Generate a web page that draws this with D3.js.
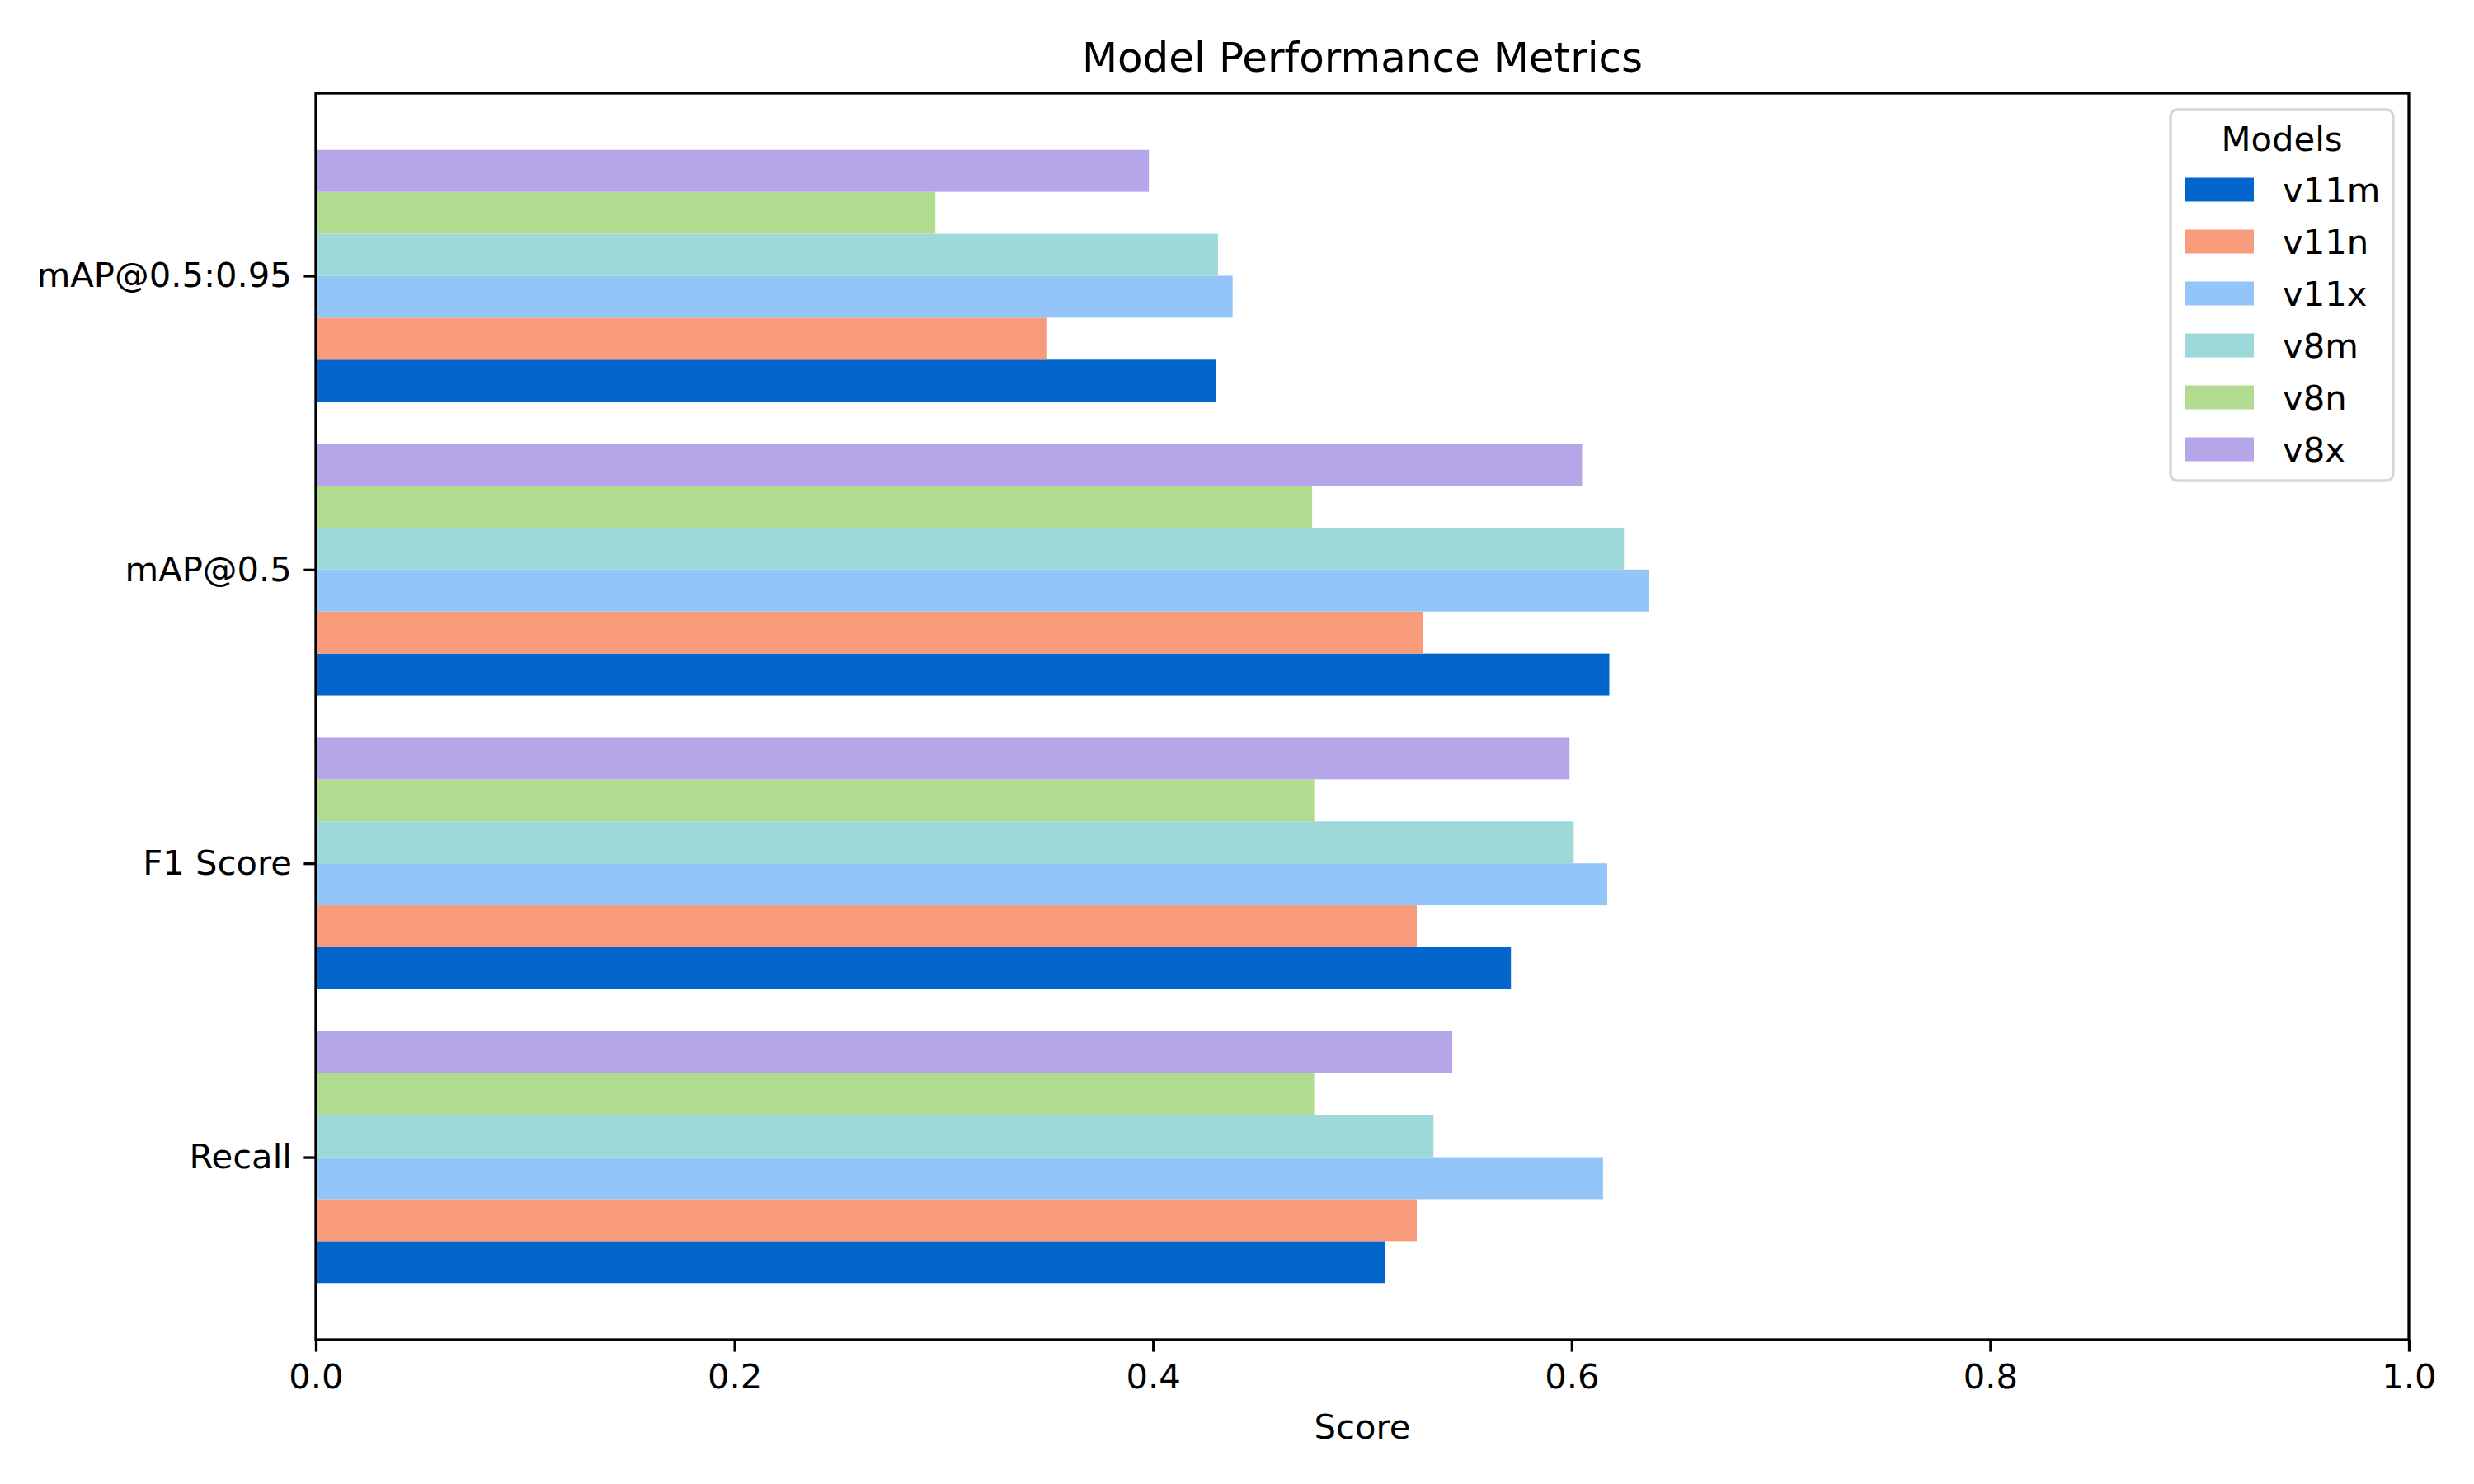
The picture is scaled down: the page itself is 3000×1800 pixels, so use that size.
<!DOCTYPE html>
<html>
<head>
<meta charset="utf-8">
<script src="https://cdn.jsdelivr.net/npm/d3@7"></script>
<style>
  html, body { margin: 0; padding: 0; background: #ffffff; }
  text { font-family: "DejaVu Sans", sans-serif; fill: #000; }
</style>
</head>
<body>
<svg id="chart" width="3000" height="1800"></svg>
<script>
// ---- data ----
const categories = ["Recall", "F1 Score", "mAP@0.5", "mAP@0.5:0.95"];
const models = ["v11m", "v11n", "v11x", "v8m", "v8n", "v8x"];
// values per model, in category order: Recall, F1 Score, mAP@0.5, mAP@0.5:0.95
const v11m = [0.511, 0.571, 0.618, 0.430];
const v11n = [0.526, 0.526, 0.529, 0.349];
const v11x = [0.615, 0.617, 0.637, 0.438];
const v8m  = [0.534, 0.601, 0.625, 0.431];
const v8n  = [0.477, 0.477, 0.476, 0.296];
const v8x  = [0.543, 0.599, 0.605, 0.398];
const seriesValues = [v11m, v11n, v11x, v8m, v8n, v8x];
const colors = ["#0366cc", "#f89b7a", "#93c5f8", "#9cd9d8", "#b1dc8f", "#b5a5e9"];
const xTicks = [0, 0.2, 0.4, 0.6, 0.8, 1.0];

// ---- layout ----
const svg = d3.select("#chart");
const L = 383, R = 2921, T = 113, B = 1625;
const fs = 41.7;
const tickLen = 14.6, tickPad = 14.6;
const lw = 3.3;

const n = models.length;
const h = 1 / (n + 1);
const half = (n / 2) * h;
const span = (categories.length - 1) + 2 * half;
const lo = -half - 0.05 * span, hi = (categories.length - 1) + half + 0.05 * span;

const x = d3.scaleLinear().domain([0, 1]).range([L, R]);
const y = d3.scaleLinear().domain([lo, hi]).range([B, T]);

// bars
const barData = [];
seriesValues.forEach((vals, j) => {
  vals.forEach((v, i) => {
    barData.push({ i, j, v, c: i + (j - (n - 1) / 2) * h });
  });
});
svg.append("g").selectAll("rect").data(barData).join("rect")
  .attr("x", x(0))
  .attr("y", d => y(d.c + h / 2))
  .attr("width", d => x(d.v) - x(0))
  .attr("height", d => y(d.c - h / 2) - y(d.c + h / 2))
  .attr("fill", d => colors[d.j]);

// axes
const xAxis = d3.axisBottom(x).tickValues(xTicks).tickFormat(d3.format(".1f"))
  .tickSizeInner(tickLen).tickSizeOuter(0).tickPadding(tickPad);
const gx = svg.append("g").attr("transform", `translate(0,${B})`).call(xAxis);
gx.select(".domain").remove();
gx.selectAll(".tick line").attr("stroke", "#000").attr("stroke-width", lw);
gx.selectAll(".tick text").attr("font-size", fs).attr("font-family", "DejaVu Sans").attr("fill", "#000");

const yAxis = d3.axisLeft(y).tickValues(d3.range(categories.length)).tickFormat(i => categories[i])
  .tickSizeInner(tickLen).tickSizeOuter(0).tickPadding(tickPad);
const gy = svg.append("g").attr("transform", `translate(${L},0)`).call(yAxis);
gy.select(".domain").remove();
gy.selectAll(".tick line").attr("stroke", "#000").attr("stroke-width", lw);
gy.selectAll(".tick text").attr("font-size", fs).attr("font-family", "DejaVu Sans").attr("fill", "#000");

// spines
svg.append("rect").attr("x", L).attr("y", T).attr("width", R - L).attr("height", B - T)
  .attr("fill", "none").attr("stroke", "#000").attr("stroke-width", lw);

// title & axis label
svg.append("text").attr("x", (L + R) / 2).attr("y", 87).attr("text-anchor", "middle")
  .attr("font-size", 50).text("Model Performance Metrics");
svg.append("text").attr("x", (L + R) / 2).attr("y", 1745).attr("text-anchor", "middle")
  .attr("font-size", fs).text("Score");

// legend
const lg = svg.append("g");
lg.append("rect").attr("x", 2632).attr("y", 133).attr("width", 270).attr("height", 450)
  .attr("rx", 8).attr("fill", "#ffffff").attr("fill-opacity", 0.8)
  .attr("stroke", "#d6d6d6").attr("stroke-width", 3.3);
lg.append("text").attr("x", 2767).attr("y", 183).attr("text-anchor", "middle")
  .attr("font-size", fs).text("Models");
const rows = lg.selectAll("g.row").data(models).join("g").attr("class", "row")
  .attr("transform", (d, k) => `translate(0,${230 + 63 * k})`);
rows.append("rect").attr("x", 2650).attr("y", -14.5).attr("width", 83).attr("height", 29)
  .attr("fill", (d, k) => colors[k]);
rows.append("text").attr("x", 2768).attr("y", 0).attr("dy", "0.36em")
  .attr("font-size", fs).text(d => d);
</script>
</body>
</html>
